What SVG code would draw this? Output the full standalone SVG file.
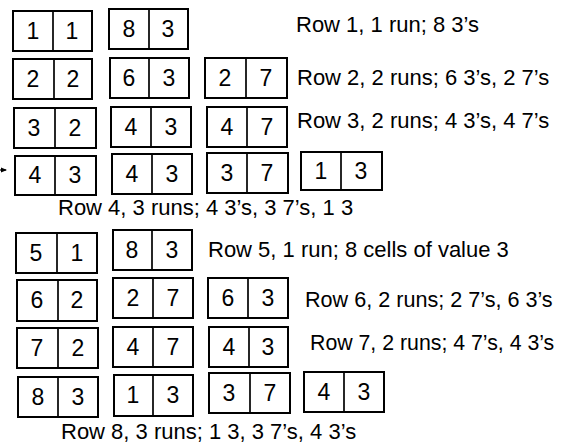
<svg xmlns="http://www.w3.org/2000/svg" width="562" height="445" viewBox="0 0 562 445">
<style>
rect.b{fill:#fff;stroke:#000;stroke-width:2}
line.d{stroke:#000;stroke-width:1.7}
text{font-family:"Liberation Sans",Arial,sans-serif;font-size:22px;fill:#000}
text.n{text-anchor:middle;font-size:23px}
</style>
<defs>
<marker id="ah" markerWidth="6" markerHeight="6" refX="5" refY="3" orient="auto" markerUnits="userSpaceOnUse">
<path d="M0,0.5 L6,3 L0,5.5 Z" fill="#000"/>
</marker>
</defs>
<rect width="562" height="445" fill="#fff"/>
<g id="connectors">
<line x1="0" y1="170" x2="6" y2="170" stroke="#000" stroke-width="1.2" marker-end="url(#ah)"/>
</g>
<!-- Row 1 -->
<g id="r1b1"><rect class="b" x="13" y="11" width="79" height="40"/><line class="d" x1="53" y1="11" x2="53" y2="51"/><text class="n" x="33" y="39">1</text><text class="n" x="72" y="39">1</text></g>
<g id="r1b2"><rect class="b" x="109" y="9" width="79" height="40"/><line class="d" x1="149" y1="9" x2="149" y2="49"/><text class="n" x="129" y="37">8</text><text class="n" x="168" y="37">3</text></g>
<g id="r1t"><text x="296" y="32">Row 1, 1 run; 8 3’s</text></g>
<!-- Row 2 -->
<g id="r2b1"><rect class="b" x="13" y="59" width="79" height="40"/><line class="d" x1="54" y1="59" x2="54" y2="99"/><text class="n" x="33" y="87">2</text><text class="n" x="73" y="87">2</text></g>
<g id="r2b2"><rect class="b" x="110" y="58" width="79" height="40"/><line class="d" x1="149" y1="58" x2="149" y2="98"/><text class="n" x="129" y="86">6</text><text class="n" x="169" y="86">3</text></g>
<g id="r2b3"><rect class="b" x="205" y="58" width="82" height="40"/><line class="d" x1="246" y1="58" x2="246" y2="98"/><text class="n" x="225" y="86">2</text><text class="n" x="266" y="86">7</text></g>
<g id="r2t"><text x="297" y="85">Row 2, 2 runs; 6 3’s, 2 7’s</text></g>
<!-- Row 3 -->
<g id="r3b1"><rect class="b" x="14" y="108" width="82" height="40"/><line class="d" x1="55" y1="108" x2="55" y2="148"/><text class="n" x="34" y="136">3</text><text class="n" x="75" y="136">2</text></g>
<g id="r3b2"><rect class="b" x="111" y="107" width="80" height="40"/><line class="d" x1="151" y1="107" x2="151" y2="147"/><text class="n" x="131" y="135">4</text><text class="n" x="171" y="135">3</text></g>
<g id="r3b3"><rect class="b" x="207" y="107" width="80" height="40"/><line class="d" x1="247" y1="107" x2="247" y2="147"/><text class="n" x="227" y="135">4</text><text class="n" x="267" y="135">7</text></g>
<g id="r3t"><text x="297" y="128">Row 3, 2 runs; 4 3’s, 4 7’s</text></g>
<!-- Row 4 -->
<g id="r4b1"><rect class="b" x="15" y="156" width="81" height="39"/><line class="d" x1="55" y1="156" x2="55" y2="195"/><text class="n" x="35" y="183">4</text><text class="n" x="75" y="183">3</text></g>
<g id="r4b2"><rect class="b" x="112" y="154" width="80" height="40"/><line class="d" x1="152" y1="154" x2="152" y2="194"/><text class="n" x="132" y="182">4</text><text class="n" x="172" y="182">3</text></g>
<g id="r4b3"><rect class="b" x="207" y="153" width="81" height="40"/><line class="d" x1="247" y1="153" x2="247" y2="193"/><text class="n" x="227" y="181">3</text><text class="n" x="267" y="181">7</text></g>
<g id="r4b4"><rect class="b" x="301" y="152" width="81" height="38"/><line class="d" x1="341" y1="152" x2="341" y2="190"/><text class="n" x="321" y="179">1</text><text class="n" x="361" y="179">3</text></g>
<g id="r4t"><text x="58" y="215">Row 4, 3 runs; 4 3’s, 3 7’s, 1 3</text></g>
<!-- Row 5 -->
<g id="r5b1"><rect class="b" x="16" y="233" width="81" height="40"/><line class="d" x1="57" y1="233" x2="57" y2="273"/><text class="n" x="36" y="261">5</text><text class="n" x="77" y="261">1</text></g>
<g id="r5b2"><rect class="b" x="113" y="230" width="79" height="40"/><line class="d" x1="152" y1="230" x2="152" y2="270"/><text class="n" x="132" y="258">8</text><text class="n" x="172" y="258">3</text></g>
<g id="r5t"><text x="208" y="257">Row 5, 1 run; 8 cells of value 3</text></g>
<!-- Row 6 -->
<g id="r6b1"><rect class="b" x="17" y="280" width="80" height="41"/><line class="d" x1="58" y1="280" x2="58" y2="321"/><text class="n" x="37" y="308">6</text><text class="n" x="77" y="308">2</text></g>
<g id="r6b2"><rect class="b" x="113" y="278" width="80" height="40"/><line class="d" x1="153" y1="278" x2="153" y2="318"/><text class="n" x="133" y="306">2</text><text class="n" x="173" y="306">7</text></g>
<g id="r6b3"><rect class="b" x="208" y="278" width="80" height="40"/><line class="d" x1="248" y1="278" x2="248" y2="318"/><text class="n" x="228" y="306">6</text><text class="n" x="268" y="306">3</text></g>
<g id="r6t"><text x="305" y="307" style="font-size:21.6px">Row 6, 2 runs; 2 7’s, 6 3’s</text></g>
<!-- Row 7 -->
<g id="r7b1"><rect class="b" x="17" y="328" width="81" height="40"/><line class="d" x1="58" y1="328" x2="58" y2="368"/><text class="n" x="37" y="356">7</text><text class="n" x="78" y="356">2</text></g>
<g id="r7b2"><rect class="b" x="113" y="327" width="80" height="40"/><line class="d" x1="153" y1="327" x2="153" y2="367"/><text class="n" x="133" y="355">4</text><text class="n" x="173" y="355">7</text></g>
<g id="r7b3"><rect class="b" x="209" y="327" width="79" height="40"/><line class="d" x1="249" y1="327" x2="249" y2="367"/><text class="n" x="229" y="355">4</text><text class="n" x="268" y="355">3</text></g>
<g id="r7t"><text x="310" y="350" style="font-size:21.3px">Row 7, 2 runs; 4 7’s, 4 3’s</text></g>
<!-- Row 8 -->
<g id="r8b1"><rect class="b" x="18" y="377" width="80" height="40"/><line class="d" x1="58" y1="377" x2="58" y2="417"/><text class="n" x="38" y="405">8</text><text class="n" x="78" y="405">3</text></g>
<g id="r8b2"><rect class="b" x="114" y="375" width="79" height="41"/><line class="d" x1="153" y1="375" x2="153" y2="416"/><text class="n" x="133" y="403">1</text><text class="n" x="173" y="403">3</text></g>
<g id="r8b3"><rect class="b" x="209" y="373" width="81" height="40"/><line class="d" x1="250" y1="373" x2="250" y2="413"/><text class="n" x="229" y="401">3</text><text class="n" x="270" y="401">7</text></g>
<g id="r8b4"><rect class="b" x="304" y="372" width="80" height="40"/><line class="d" x1="344" y1="372" x2="344" y2="412"/><text class="n" x="324" y="400">4</text><text class="n" x="364" y="400">3</text></g>
<g id="r8t"><text x="61" y="439">Row 8, 3 runs; 1 3, 3 7’s, 4 3’s</text></g>
</svg>
